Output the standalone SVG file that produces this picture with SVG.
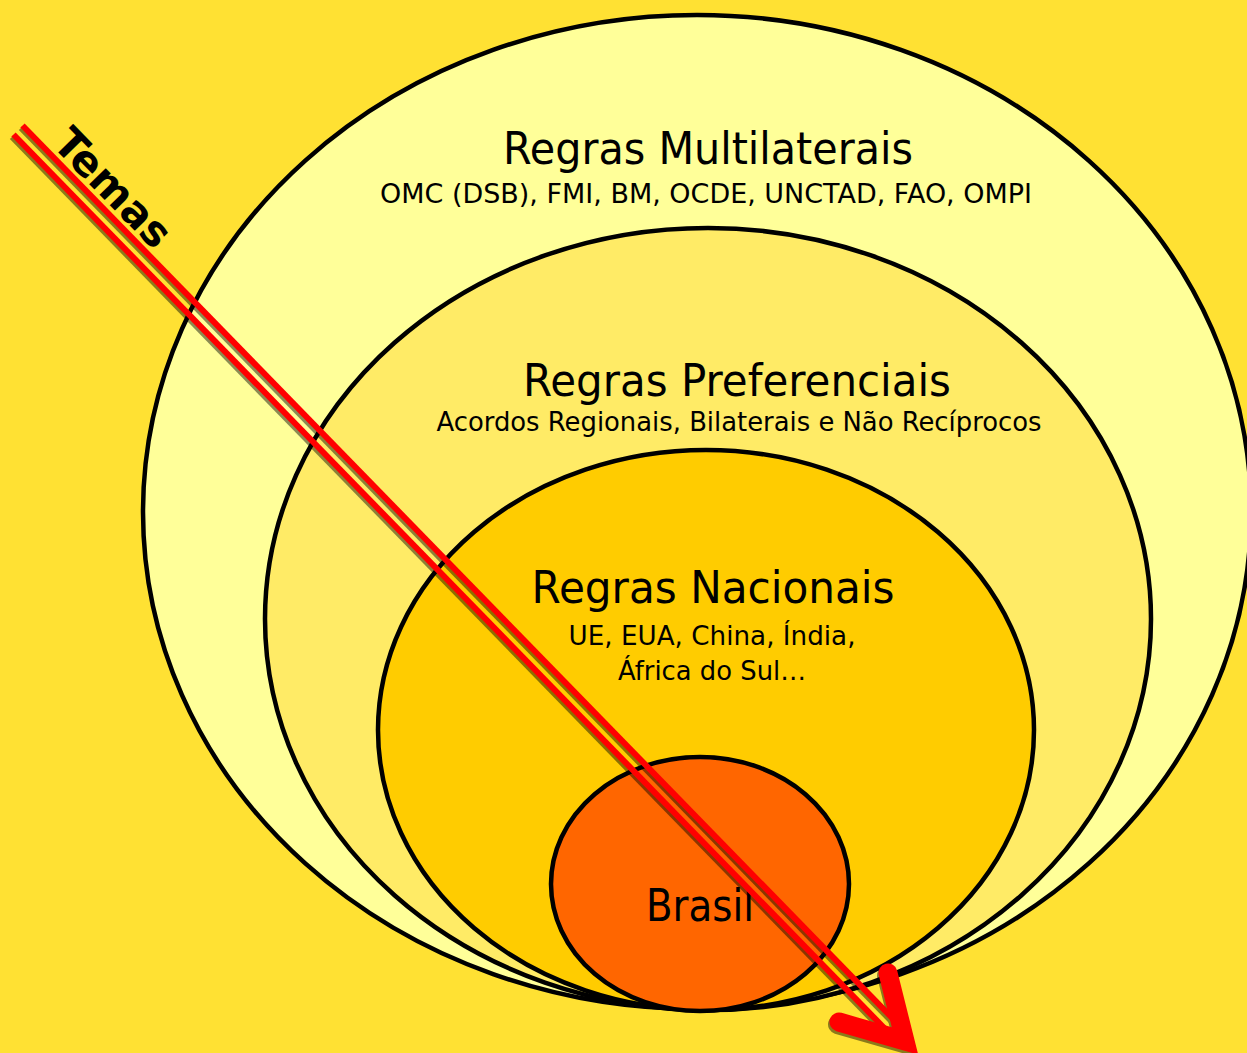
<svg xmlns="http://www.w3.org/2000/svg" width="1247" height="1053" viewBox="0 0 1247 1053">
  <style>
    .ring { stroke: #000; stroke-width: 4.5; }
    .title { font-family: "DejaVu Sans", "Liberation Sans", sans-serif; font-size: 45px; fill: #000; text-anchor: middle; }
    .sub { font-family: "DejaVu Sans", "Liberation Sans", sans-serif; font-size: 26px; fill: #000; text-anchor: middle; }
    .temas { font-family: "DejaVu Sans", "Liberation Sans", sans-serif; font-size: 42px; font-weight: bold; fill: #000; }
    .aline { fill: none; stroke-width: 6; stroke-linecap: butt; }
    .ahead { fill: none; stroke-width: 19; stroke-linecap: round; stroke-linejoin: miter; stroke-miterlimit: 10; }
  </style>
  <rect x="0" y="0" width="1247" height="1053" fill="#FFE133"/>

  <g id="multilaterais">
    <ellipse class="ring" cx="697" cy="512" rx="554" ry="497" fill="#FFFF99"/>
    <text class="title" x="708" y="164" textLength="410" lengthAdjust="spacingAndGlyphs">Regras Multilaterais</text>
    <text class="sub" x="706" y="203" textLength="652" lengthAdjust="spacingAndGlyphs">OMC (DSB), FMI, BM, OCDE, UNCTAD, FAO, OMPI</text>
  </g>

  <g id="preferenciais">
    <ellipse class="ring" cx="708" cy="619" rx="443" ry="391" fill="#FFEB66"/>
    <text class="title" x="737" y="396" textLength="428" lengthAdjust="spacingAndGlyphs">Regras Preferenciais</text>
    <text class="sub" x="739" y="431" textLength="605" lengthAdjust="spacingAndGlyphs">Acordos Regionais, Bilaterais e Não Recíprocos</text>
  </g>

  <g id="nacionais">
    <ellipse class="ring" cx="706" cy="730" rx="328" ry="280" fill="#FFCC00"/>
    <text class="title" x="713" y="603" textLength="363" lengthAdjust="spacingAndGlyphs">Regras Nacionais</text>
    <text class="sub" x="712" y="645" textLength="287" lengthAdjust="spacingAndGlyphs">UE, EUA, China, Índia,</text>
    <text class="sub" x="712" y="680" textLength="188" lengthAdjust="spacingAndGlyphs">África do Sul…</text>
  </g>

  <g id="brasil">
    <ellipse class="ring" cx="700" cy="884" rx="149" ry="127" fill="#FF6600"/>
    <text class="title" x="700" y="921" textLength="108" lengthAdjust="spacingAndGlyphs">Brasil</text>
  </g>

  <g id="connectors">
    <g id="temas-arrow-shadow" opacity="0.45" transform="translate(-1.5,2.5)">
      <line class="aline" stroke="#000" x1="22.5" y1="125.5" x2="899.5" y2="1025.5"/>
      <line class="aline" stroke="#000" x1="13.5" y1="134.5" x2="890.5" y2="1034.5"/>
      <polyline class="ahead" stroke="#000" points="839,1022 905,1041 888,973"/>
    </g>
    <g id="temas-arrow">
      <line class="aline" stroke="#FF0000" x1="22.5" y1="125.5" x2="899.5" y2="1025.5"/>
      <line class="aline" stroke="#FF0000" x1="13.5" y1="134.5" x2="890.5" y2="1034.5"/>
      <polyline class="ahead" stroke="#FF0000" points="839,1022 905,1041 888,973"/>
    </g>
    <text class="temas" x="0" y="0" transform="translate(51,145) rotate(45.7)" textLength="148" lengthAdjust="spacingAndGlyphs">Temas</text>
  </g>
</svg>
